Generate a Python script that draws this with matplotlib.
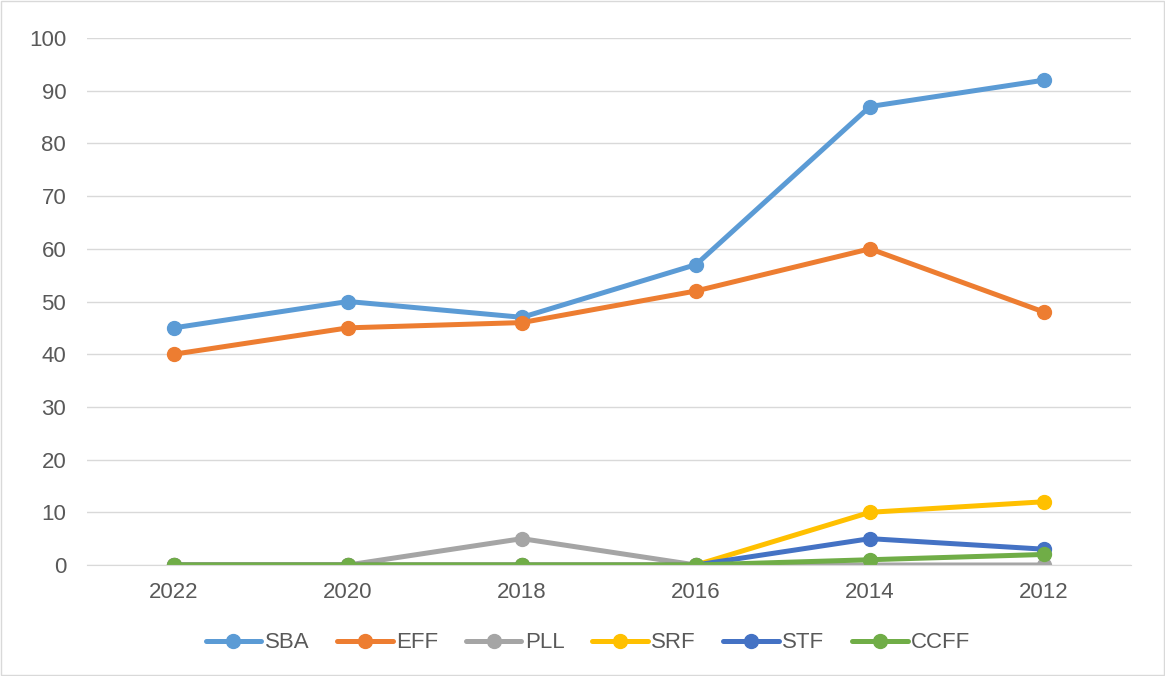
import matplotlib.pyplot as plt
from matplotlib.patches import Rectangle

# data
years = ["2022", "2020", "2018", "2016", "2014", "2012"]
sba = [45, 50, 47, 57, 87, 92]
eff = [40, 45, 46, 52, 60, 48]
pll = [0, 0, 5, 0, 0, 0]
srf = [0, 0, 0, 0, 10, 12]
stf = [0, 0, 0, 0, 5, 3]
ccff = [0, 0, 0, 0, 1, 2]

names = ["SBA", "EFF", "PLL", "SRF", "STF", "CCFF"]
colors = ["#5B9BD5", "#ED7D31", "#A5A5A5", "#FFC000", "#4472C4", "#70AD47"]

plt.rcParams['font.family'] = ['Liberation Sans', 'DejaVu Sans']

fig = plt.figure(figsize=(11.65, 6.76), dpi=100)
ax = fig.add_axes([87 / 1165, 111 / 676, 1044 / 1165, 527 / 676])

x = list(range(len(years)))
for vals, name, c in zip([sba, eff, pll, srf, stf, ccff], names, colors):
    ax.plot(x, vals, color=c, lw=3.6, marker='o', ms=10, label=name,
            solid_capstyle='round', solid_joinstyle='round')

ax.set_xlim(-0.5, len(years) - 0.5)
ax.set_ylim(0, 100)
ax.set_yticks(range(0, 101, 10))
ax.set_xticks(x)
ax.set_xticklabels(years)
ax.grid(axis='y', color='#D9D9D9', lw=1)
ax.set_axisbelow(True)
for s in ['top', 'right', 'left']:
    ax.spines[s].set_visible(False)
ax.spines['bottom'].set_color('#D9D9D9')
ax.tick_params(length=0, labelsize=16, colors='#595959', pad=12)
ax.tick_params(axis='y', pad=15)

leg = fig.legend(loc='center', bbox_to_anchor=(588 / 1165, 1 - 643 / 676), ncol=6,
                 frameon=False, fontsize=16, handlelength=2.5,
                 columnspacing=1.25, handletextpad=0.15)
for t in leg.get_texts():
    t.set_color('#595959')

# chart border
fig.patches.append(Rectangle((0.001, 0.001), 0.998, 0.997, transform=fig.transFigure,
                             fill=False, edgecolor='#D9D9D9', lw=1))

fig.savefig("out.png", dpi=100)
